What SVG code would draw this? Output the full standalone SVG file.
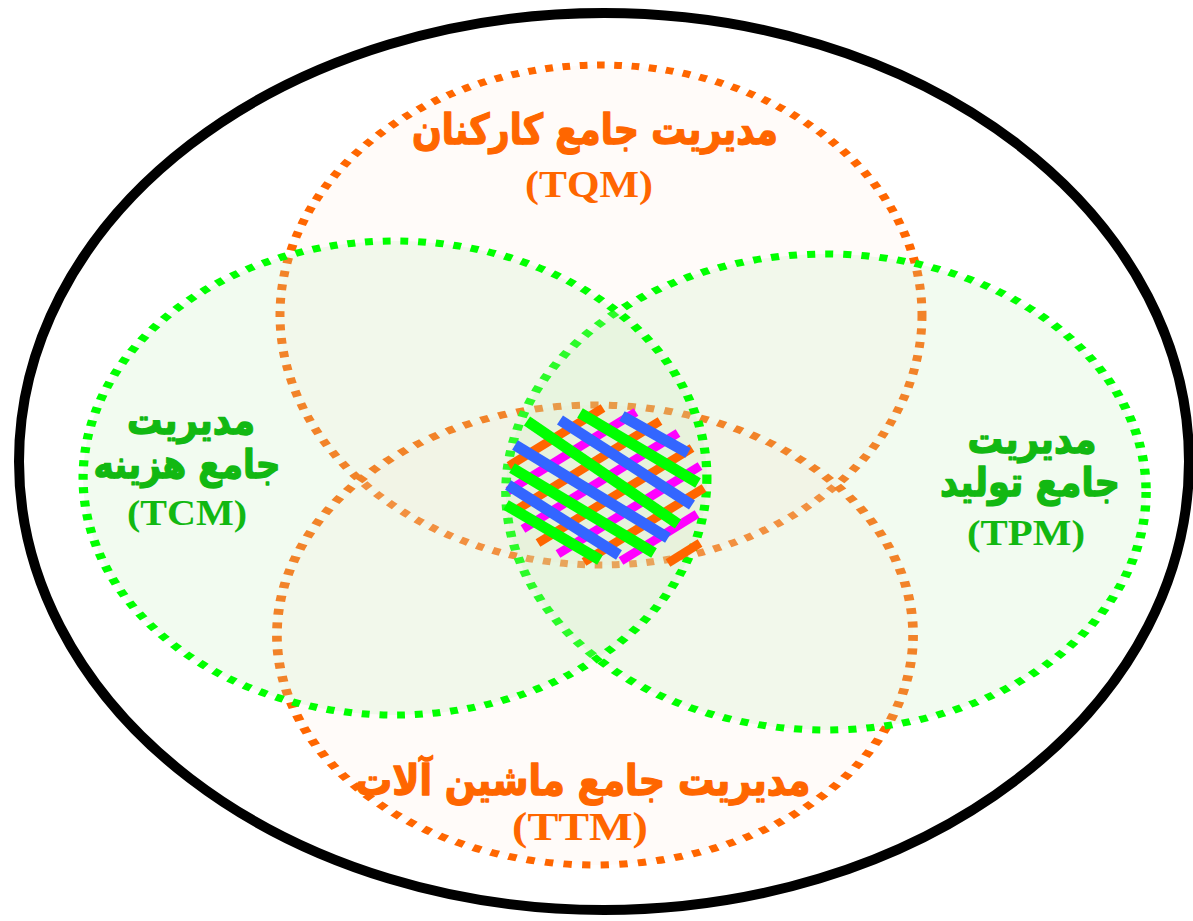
<svg xmlns="http://www.w3.org/2000/svg" width="1193" height="921" viewBox="0 0 1193 921">
  <style>
    .frame { fill: none; stroke: #000; stroke-width: 10; }
    .ring-o { fill: #ffe6d5; fill-opacity: 0.14; stroke: #ff6600; stroke-width: 7; stroke-dasharray: 6 7.5; }
    .ring-g { fill: rgb(196,238,186); fill-opacity: 0.22; stroke: #00ff00; stroke-width: 7; stroke-dasharray: 6 7.5; }
    .fa { font-family: "DejaVu Sans", sans-serif; font-weight: bold; text-anchor: middle; stroke-width: 1.4; stroke-linejoin: round; }
    .en { font-family: "Liberation Serif", serif; font-weight: bold; text-anchor: middle; }
    .or { fill: #ff6600; stroke: #ff6600; }
    .gr { fill: #12b812; stroke: #12b812; }
    .en.or, .en.gr { stroke: none; }
    .h1 { stroke: #ff6600; stroke-width: 9; }
    .h2 { stroke: #ff00ff; stroke-width: 9; }
    .h3 { stroke: #00ff00; stroke-width: 11; }
    .h4 { stroke: #3366ff; stroke-width: 11; }
  </style>

  <rect width="1193" height="921" fill="#ffffff"/>

  <!-- outer boundary -->
  <ellipse id="frame" class="frame" cx="604" cy="461.5" rx="585" ry="448.5"/>

  <!-- four overlapping areas: circles stretched horizontally -->
  <g id="tqm">
    <g transform="translate(601 315) scale(1.284 1)"><circle class="ring-o" r="250"/></g>
  </g>
  <g id="ttm">
    <g transform="translate(595 635) scale(1.383 1)"><circle class="ring-o" r="230"/></g>
  </g>
  <g id="tpm">
    <g transform="translate(826 492) scale(1.345 1)"><circle class="ring-g" r="238"/></g>
  </g>
  <g id="tcm">
    <g transform="translate(395 478) scale(1.316 1)"><circle class="ring-g" r="237"/></g>
  </g>

  <!-- hatched core where all four meet -->
  <g id="core">
    <line class="h1" x1="509" y1="466" x2="603" y2="408"/>
    <line class="h2" x1="508" y1="491" x2="636" y2="412"/>
    <line class="h1" x1="513" y1="512" x2="660" y2="421"/>
    <line class="h2" x1="523" y1="529" x2="678" y2="433"/>
    <line class="h1" x1="538" y1="543" x2="692" y2="448"/>
    <line class="h2" x1="558" y1="554" x2="700" y2="466"/>
    <line class="h1" x1="584" y1="562" x2="704" y2="488"/>
    <line class="h2" x1="621" y1="561" x2="697" y2="514"/>
    <line class="h1" x1="668" y1="563" x2="700" y2="543"/>

    <line class="h4" x1="622" y1="416" x2="688" y2="453"/>
    <line class="h3" x1="580" y1="413" x2="698" y2="483"/>
    <line class="h4" x1="560" y1="420" x2="692" y2="505"/>
    <line class="h3" x1="527" y1="421" x2="678" y2="524"/>
    <line class="h4" x1="515" y1="445" x2="668" y2="538"/>
    <line class="h3" x1="512" y1="468" x2="654" y2="553"/>
    <line class="h4" x1="508" y1="485" x2="619" y2="555"/>
    <line class="h3" x1="506" y1="505" x2="600" y2="560"/>
  </g>

  <!-- labels -->
  <g id="label-tqm">
    <text class="fa or" x="595" y="144" font-size="42" textLength="366" lengthAdjust="spacingAndGlyphs">مدیریت جامع کارکنان</text>
    <text class="en or" x="589" y="197" font-size="38" textLength="128" lengthAdjust="spacingAndGlyphs">(TQM)</text>
  </g>
  <g id="label-tcm">
    <text class="fa gr" x="191" y="434" font-size="40" textLength="128" lengthAdjust="spacingAndGlyphs">مدیریت</text>
    <text class="fa gr" x="187" y="478" font-size="40" textLength="187" lengthAdjust="spacingAndGlyphs">جامع هزینه</text>
    <text class="en gr" x="187" y="525" font-size="35" textLength="120" lengthAdjust="spacingAndGlyphs">(TCM)</text>
  </g>
  <g id="label-tpm">
    <text class="fa gr" x="1032" y="453" font-size="40" textLength="129" lengthAdjust="spacingAndGlyphs">مدیریت</text>
    <text class="fa gr" x="1030" y="496" font-size="40" textLength="180" lengthAdjust="spacingAndGlyphs">جامع تولید</text>
    <text class="en gr" x="1026" y="545" font-size="35" textLength="118" lengthAdjust="spacingAndGlyphs">(TPM)</text>
  </g>
  <g id="label-ttm">
    <text class="fa or" x="583" y="795" font-size="42" textLength="455" lengthAdjust="spacingAndGlyphs">مدیریت جامع ماشین آلات</text>
    <text class="en or" x="580" y="840" font-size="39" textLength="136" lengthAdjust="spacingAndGlyphs">(TTM)</text>
  </g>
</svg>
